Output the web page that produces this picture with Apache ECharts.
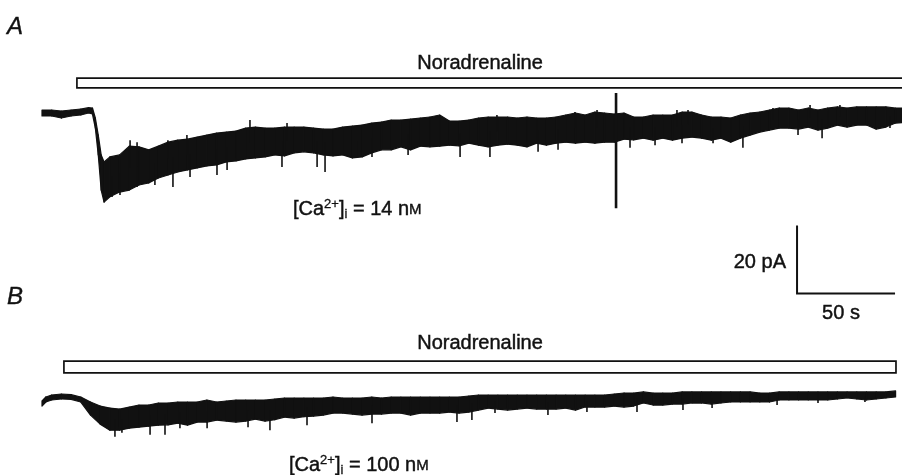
<!DOCTYPE html>
<html>
<head>
<meta charset="utf-8">
<script src="https://cdn.jsdelivr.net/npm/echarts@6/dist/echarts.min.js"></script>
<style>
  html, body { margin: 0; padding: 0; background: #ffffff; }
  #chart { width: 902px; height: 475px; }
</style>
</head>
<body>
<div id="chart"></div>
<script>
// Whole-cell current recordings: time (s) with upper / lower noise envelope (pA)
const timeA = [0,5,10,15,20,24,26,27.5,29,30.5,32,
  35,40,45,50,55,60,65,70,75,80,85,90,95,100,105,110,115,120,125,130,
  135,140,145,150,155,160,165,170,175,180,185,190,195,200,205,210,215,220,225,230,
  235,240,245,250,255,260,265,270,275,280,285,290,295,300,305,310,315,320,325,330,
  335,340,345,350,355,360,365,370,375,380,385,390,395,400,405,410,415,420,425,430,
  435,440,448];
const upperA = [0.9,0.9,0.6,0.9,1.2,1.6,1.5,-1.5,-6.6,-12.5,-14.6,
  -13.1,-12.5,-9.9,-10.1,-11,-9.9,-8.7,-8.1,-7.8,-7.2,
  -6.6,-6,-5.7,-5.4,-4.5,-4.2,-4.5,-4.5,-4.2,-4.2,
  -4.2,-4.5,-4.8,-4.8,-4.2,-3.9,-3.6,-3,-2.7,-2.1,
  -2.1,-1.8,-1.5,-1.2,-0.6,-2.4,-2.4,-2.1,-1.5,-1.2,
  -1.2,-1.2,-1.5,-1.2,-1.5,-1.5,-1.2,-0.6,0,-0.6,
  0.3,0,-0.3,0,-1.2,-1.2,-0.6,-0.6,-0.6,0.3,
  0.3,-0.6,-1.2,-1.2,-1.5,-0.6,0,0.3,0.9,1.5,
  1.5,0.9,1.5,0.9,1.5,1.8,1.5,1.8,1.8,1.8,
  1.8,1.5,1.5];
const lowerA = [-0.9,-0.9,-1.5,-0.9,-0.6,0,-0.3,-4.5,-12.5,-23,-26.6,
  -25,-23.6,-23,-21.5,-20.9,-19.4,-18.5,-17.6,-17,-16.4,
  -15.8,-15.5,-14.6,-14.3,-13.7,-13.4,-13.1,-12.5,-12.8,-11.9,
  -11.6,-11.9,-12.5,-12.8,-12.5,-13.4,-13.1,-11.9,-11,-11,
  -10.1,-11,-9.9,-10.1,-9.9,-9.6,-9.8,-9,-9.6,-10.1,
  -9.6,-9.3,-9.6,-10.1,-9,-9.6,-9,-8.7,-9,-8.7,
  -9,-8.7,-8.7,-7.8,-8,-7.5,-8.1,-7.5,-8.1,-7.5,
  -7.2,-7.5,-8.1,-7.5,-8.7,-7.5,-6.6,-5.7,-5.1,-4.5,
  -4.5,-4.8,-4.2,-5.1,-4.5,-3.6,-4.2,-3.6,-3.6,-4.8,
  -4.2,-3,-2.7];
// Individual noise excursions in trace A: [time, peak current]
const spikesA = [[36.1,-25.1],[40.2,-24.5],[49,-22.1],[58.2,-21.5],[67.5,-22.1],
  [76.3,-19.1],[90.2,-18.5],[95.4,-17],[123.7,-16.1],[141.8,-16.1],[145.9,-17.6],
  [162.9,-13.1],[170.1,-13.1],[188.7,-12.5],[215.5,-13.1],[230.9,-13.1],[255.7,-11.6],
  [266,-11],[303.1,-10.4],[316,-9.6],[329.9,-9],[345.9,-9],[361.3,-10.4],[389.7,-6.6],
  [402.1,-7.5],[437.1,-4.5],
  [45.4,-8.1],[49,-8.7],[64.9,-8.1],[74.7,-6.6],[107.2,-2.1],[126.3,-3.0],
  [205.2,-0.6],[234.5,-0.6],[274.7,0.3],[286.1,0.9],[327.3,0.9],[333,0.9],
  [376.8,1.5],[395.9,2.4],[411.3,2.4]];

const timeB = [0,2,
  5,10,15,20,25,30,35,40,45,50,55,60,65,70,75,80,85,90,95,100,
  105,110,115,120,125,130,135,140,145,150,155,160,165,170,175,180,185,190,195,200,
  205,210,215,220,225,230,235,240,245,250,255,260,265,270,275,280,285,290,295,300,
  305,310,315,320,325,330,335,340,345,350,355,360,365,370,375,380,385,390,395,400,
  405,410,415,420,425,430,435,440];
const upperB = [-0.9,0.3,
  0.9,1.2,1.0,0.3,-1.2,-2.4,-3,-3.3,-2.7,-2.1,
  -2.1,-1.5,-1.5,-1.2,-1.2,-1.2,-0.6,-1.2,-0.9,-0.6,
  -0.6,-0.6,-0.6,-0.3,0,0,0,0,0,0.3,
  0,0,0,0.3,0,0.3,0.3,0.3,0.3,0.3,
  0.3,0.3,0.3,0.6,0.9,0.9,0.9,0.9,0.9,0.9,
  0.9,0.9,0.9,0.9,0.9,0.9,0.9,0.9,1.2,1.5,
  1.5,1.8,1.5,1.5,1.5,1.8,1.8,1.8,1.8,1.8,
  1.8,1.8,1.8,1.5,1.5,1.8,1.8,1.8,1.8,1.8,
  1.8,1.8,1.8,1.8,1.8,1.8,1.8,2.1];
const lowerB = [-2.4,-1.2,
  -0.6,-0.3,-0.4,-1.2,-5.1,-7.8,-9.6,-9.6,-9,-8.7,
  -8.4,-8.1,-8,-7.5,-8.1,-7.2,-7.2,-6.6,-6.9,-7.2,
  -6.9,-6.3,-6.9,-6.5,-5.7,-6,-5.6,-5.4,-5.1,-4.5,
  -4.5,-4.8,-5.1,-4.8,-4.8,-4.5,-4.5,-5.1,-4.5,-4.5,
  -4.5,-4.2,-4.5,-4.2,-3.6,-3,-3.3,-3.6,-3.3,-3,
  -3.3,-3.3,-3.3,-3,-3.6,-2.7,-2.7,-2.7,-2.4,-2.7,
  -2.4,-1.5,-2.1,-2.1,-1.8,-1.8,-1.5,-1.5,-1.8,-1.5,
  -1.2,-1.2,-1.2,-1.2,-1.2,-0.6,-0.6,-0.6,-0.6,-0.6,
  -0.6,-0.3,0,-0.3,-0.6,-0.3,0,0.3];
// Individual noise excursions in trace B: [time, peak current]
const spikesB = [[37.6,-11.6],[41.2,-10.4],[55.7,-11],[63.4,-11],[71.1,-9],[85.1,-9],
  [106.2,-8.7],[117.5,-9.6],[136.6,-8.1],[170.1,-7.5],[213.9,-7.2],[221.6,-6.6],
  [233.5,-4.5],[260.8,-5.1],[280.9,-4.2],[306.7,-4.2],[330.4,-3.6],[345.4,-3.0],
  [378.9,-2.1],[400,-1.5],[424.2,-1.2]];

// Brief switching transient in trace A: [time, top, bottom]
const transientA = [295.9, 6.0, -28.4];

// Noradrenaline application periods: [start, end] in s
const drugA = [18, 448];
const drugB = [11.3, 440.2];
const drugName = 'Noradrenaline';

// Calibration bar: corner [time, current], then its lengths
const scaleCorner = [389.2, -53.9];
const scaleTime = 50;      // s
const scaleCurrent = 20;   // pA

const panelNames = ['A', 'B'];
const caConc = ['14', '100'];

const INK = '#111111';
const FONT = '"Liberation Sans", Arial, Helvetica, sans-serif';
const T_MAX = 443.3;

// Noise band: one filled quadrilateral between consecutive envelope samples
function band(times, upper, lower, gridIdx) {
  return {
    type: 'custom', xAxisIndex: gridIdx, yAxisIndex: gridIdx, silent: true,
    clip: false,
    data: times.map((t, i) => [t, upper[i], lower[i]]),
    encode: { x: 0, y: [1, 2] },
    renderItem: function (params, api) {
      const i = params.dataIndex;
      if (i >= times.length - 1) return null;
      const p1 = api.coord([times[i], upper[i]]);
      const p2 = api.coord([times[i + 1], upper[i + 1]]);
      const p3 = api.coord([times[i + 1], lower[i + 1]]);
      const p4 = api.coord([times[i], lower[i]]);
      return {
        type: 'polygon',
        shape: { points: [p1, p2, p3, p4] },
        style: { fill: INK, stroke: INK, lineWidth: 1.2, lineJoin: 'round' }
      };
    }
  };
}

// Centre of the band at time t, used as the root of each excursion
function bandCentre(times, upper, lower, t) {
  let i = 0;
  while (i < times.length - 2 && times[i + 1] < t) i++;
  const f = Math.max(0, Math.min(1, (t - times[i]) / (times[i + 1] - times[i])));
  const up = upper[i] + f * (upper[i + 1] - upper[i]);
  const lo = lower[i] + f * (lower[i + 1] - lower[i]);
  return (up + lo) / 2;
}

function spikes(list, times, upper, lower, gridIdx) {
  return {
    type: 'custom', xAxisIndex: gridIdx, yAxisIndex: gridIdx, silent: true,
    data: list,
    renderItem: function (params, api) {
      const t = api.value(0);
      const a = api.coord([t, bandCentre(times, upper, lower, t)]);
      const b = api.coord([t, api.value(1)]);
      return {
        type: 'line',
        shape: { x1: a[0], y1: a[1], x2: b[0], y2: b[1] },
        style: { stroke: INK, lineWidth: 1.6 }
      };
    }
  };
}

// Drug application bar: open rectangle spanning the application period
function drugBar(range, gridIdx, top, bottom) {
  return {
    type: 'custom', xAxisIndex: gridIdx, yAxisIndex: gridIdx, silent: true,
    clip: false,
    data: [[range[0], range[1], top, bottom]],
    renderItem: function (params, api) {
      const a = api.coord([api.value(0), api.value(2)]);
      const b = api.coord([api.value(1), api.value(3)]);
      return {
        type: 'rect',
        shape: { x: a[0], y: a[1], width: b[0] - a[0], height: b[1] - a[1] },
        style: { fill: '#ffffff', stroke: INK, lineWidth: 1.7 }
      };
    }
  };
}

const caRich = {
  sup: { fontSize: 13, fontFamily: FONT, fill: INK, stroke: INK, lineWidth: 0.3, verticalAlign: 'bottom', padding: [0, 0, 10, 0] },
  sub: { fontSize: 13, fontFamily: FONT, fill: INK, stroke: INK, lineWidth: 0.3, verticalAlign: 'top', padding: [10, 0, 0, 0] },
  sc: { fontSize: 15, fontFamily: FONT, fill: INK, stroke: INK, lineWidth: 0.4, verticalAlign: 'top', padding: [5, 0, 0, 0] }
};
function caText(conc) {
  return '[Ca{sup|2+}]{sub|i} = ' + conc + ' n{sc|M}';
}

function label(x, y, text, size, align, extra) {
  return {
    type: 'text', x: x, y: y, silent: true,
    style: Object.assign({
      text: text, font: size + 'px ' + FONT, fill: INK, stroke: INK, lineWidth: 0.45,
      align: align, verticalAlign: 'middle'
    }, extra || {})
  };
}

const chart = echarts.init(document.getElementById('chart'), null, { renderer: 'canvas' });

const option = {
  animation: false,
  backgroundColor: '#ffffff',
  grid: [
    { left: 42, right: 0, top: 46, height: 268 },
    { left: 42, right: 0, top: 331, height: 134 }
  ],
  xAxis: [
    { type: 'value', gridIndex: 0, min: 0, max: T_MAX, show: false },
    { type: 'value', gridIndex: 1, min: 0, max: T_MAX, show: false }
  ],
  yAxis: [
    { type: 'value', gridIndex: 0, min: -60, max: 20, show: false },
    { type: 'value', gridIndex: 1, min: -20, max: 20, show: false }
  ],
  series: [
    drugBar(drugA, 0, 10.4, 7.5),
    drugBar(drugB, 1, 11.0, 7.5),
    band(timeA, upperA, lowerA, 0),
    band(timeB, upperB, lowerB, 1),
    spikes(spikesA, timeA, upperA, lowerA, 0),
    spikes(spikesB, timeB, upperB, lowerB, 1),
    {
      type: 'line', xAxisIndex: 0, yAxisIndex: 0, symbol: 'none', silent: true,
      data: [[transientA[0], transientA[1]], [transientA[0], transientA[2]]],
      lineStyle: { color: INK, width: 2.6 }
    },
    {
      type: 'line', xAxisIndex: 0, yAxisIndex: 0, symbol: 'none', silent: true,
      data: [
        [scaleCorner[0] + scaleTime, scaleCorner[1]],
        [scaleCorner[0], scaleCorner[1]],
        [scaleCorner[0], scaleCorner[1] + scaleCurrent]
      ],
      lineStyle: { color: INK, width: 2, join: 'miter', cap: 'square' }
    }
  ],
  graphic: [
    { type: 'text', x: 7, y: 27, silent: true, style: { text: panelNames[0], font: 'italic 24px ' + FONT, fill: INK, stroke: INK, lineWidth: 0.4, verticalAlign: 'middle' } },
    { type: 'text', x: 7, y: 297, silent: true, style: { text: panelNames[1], font: 'italic 24px ' + FONT, fill: INK, stroke: INK, lineWidth: 0.4, verticalAlign: 'middle' } },
    label(480, 63, drugName, 20, 'center'),
    label(480, 343, drugName, 20, 'center'),
    label(293, 209, caText(caConc[0]), 20, 'left', { rich: caRich }),
    label(289, 465, caText(caConc[1]), 20, 'left', { rich: caRich }),
    label(786, 262, scaleCurrent + ' pA', 20, 'right'),
    label(841, 313, scaleTime + ' s', 20, 'center')
  ]
};

chart.setOption(option);
</script>
</body>
</html>
